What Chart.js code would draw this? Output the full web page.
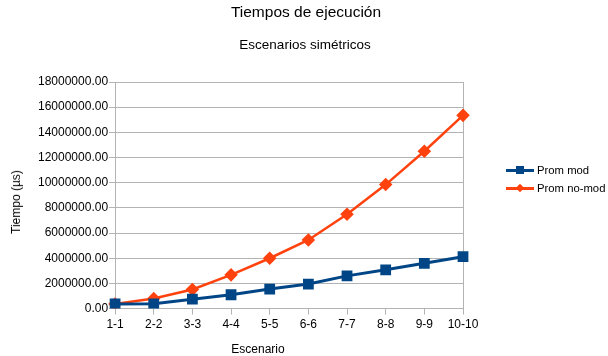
<!DOCTYPE html>
<html><head><meta charset="utf-8">
<script src="https://cdn.jsdelivr.net/npm/chart.js@4/dist/chart.umd.min.js"></script>
<style>
html,body{margin:0;padding:0;background:#fff;}
#wrap{position:relative;width:608px;height:356px;font-family:"Liberation Sans",Arial,sans-serif;color:#000;}
.lbl{position:absolute;transform:translate(-50%,-50%);white-space:nowrap;line-height:1;}
#legend{position:absolute;left:506px;top:161px;font-size:11.3px;}
.item{display:flex;align-items:center;height:18px;}
.sym{position:relative;width:28px;height:10px;margin-right:3px;}
.sym .ln{position:absolute;left:0;right:0;top:3.5px;height:3px;}
.sym .mk{position:absolute;left:10px;top:1px;width:8px;height:8px;}
</style></head>
<body><div id="wrap"><canvas id="c" width="608" height="356"></canvas>
<div class="lbl" id="t1" style="left:306px;top:12px;font-size:15.5px;"></div>
<div class="lbl" id="t2" style="left:305px;top:45px;font-size:13.5px;"></div>
<div class="lbl" id="ty" style="left:16px;top:202px;font-size:12px;transform:translate(-50%,-50%) rotate(-90deg);"></div>
<div class="lbl" id="tx" style="left:258px;top:349px;font-size:12px;"></div>
<div id="legend"></div></div>
<script>
const categories = ["1-1","2-2","3-3","4-4","5-5","6-6","7-7","8-8","9-9","10-10"];
const promMod = [370000,380000,750000,1100000,1550000,1950000,2600000,3080000,3600000,4120000];
const promNoMod = [370000,800000,1520000,2680000,4000000,5450000,7500000,9850000,12500000,15350000];
const seriesNames = ["Prom mod","Prom no-mod"];
const yTicks = {min:0,max:18000000,step:2000000};
const texts = {title:"Tiempos de ejecución",subtitle:"Escenarios simétricos",xTitle:"Escenario",yTitle:"Tiempo (µs)"};

const blue = "#004586", orange = "#ff420e";
const FONT = "'Liberation Sans', Arial, sans-serif";

document.getElementById('t1').textContent = texts.title;
document.getElementById('t2').textContent = texts.subtitle;
document.getElementById('tx').textContent = texts.xTitle;
document.getElementById('ty').textContent = texts.yTitle;

const lg = document.getElementById('legend');
[[seriesNames[0],blue,false],[seriesNames[1],orange,true]].forEach(([n,c,d])=>{
  const it=document.createElement('div');it.className='item';
  it.innerHTML='<div class="sym"><div class="ln" style="background:'+c+'"></div><div class="mk" style="background:'+c+(d?';transform:rotate(45deg) scale(0.75)':'')+'"></div></div><span>'+n+'</span>';
  lg.appendChild(it);
});

new Chart(document.getElementById('c'),{
  type:'line',
  data:{labels:categories,datasets:[
    {label:seriesNames[0],data:promMod,borderColor:blue,backgroundColor:blue,borderWidth:3,pointStyle:'rect',pointRadius:5.5,pointHoverRadius:5.5,tension:0},
    {label:seriesNames[1],data:promNoMod,borderColor:orange,backgroundColor:orange,borderWidth:2.5,pointStyle:'rectRot',pointRadius:5,pointHoverRadius:5,tension:0}
  ]},
  options:{
    responsive:false,animation:false,
    layout:{padding:{left:37,right:145,top:82,bottom:21}},
    plugins:{legend:{display:false},tooltip:{enabled:false}},
    scales:{
      x:{offset:false,
        grid:{color:(ctx)=> (ctx.index===0||ctx.index===categories.length-1)?'#b3b3b3':'rgba(0,0,0,0)',tickColor:'#b3b3b3',tickLength:6},
        border:{color:'#b3b3b3'},
        ticks:{color:'#000',font:{family:FONT,size:12},maxRotation:0,autoSkip:false,padding:3}
      },
      y:{min:yTicks.min,max:yTicks.max,
        grid:{color:'#b3b3b3',tickColor:'#b3b3b3',tickLength:6},
        border:{color:'#b3b3b3'},
        ticks:{stepSize:yTicks.step,color:'#000',font:{family:FONT,size:12},padding:1,callback:(v)=>Number(v).toFixed(2)}
      }
    }
  }
});
</script></body></html>
